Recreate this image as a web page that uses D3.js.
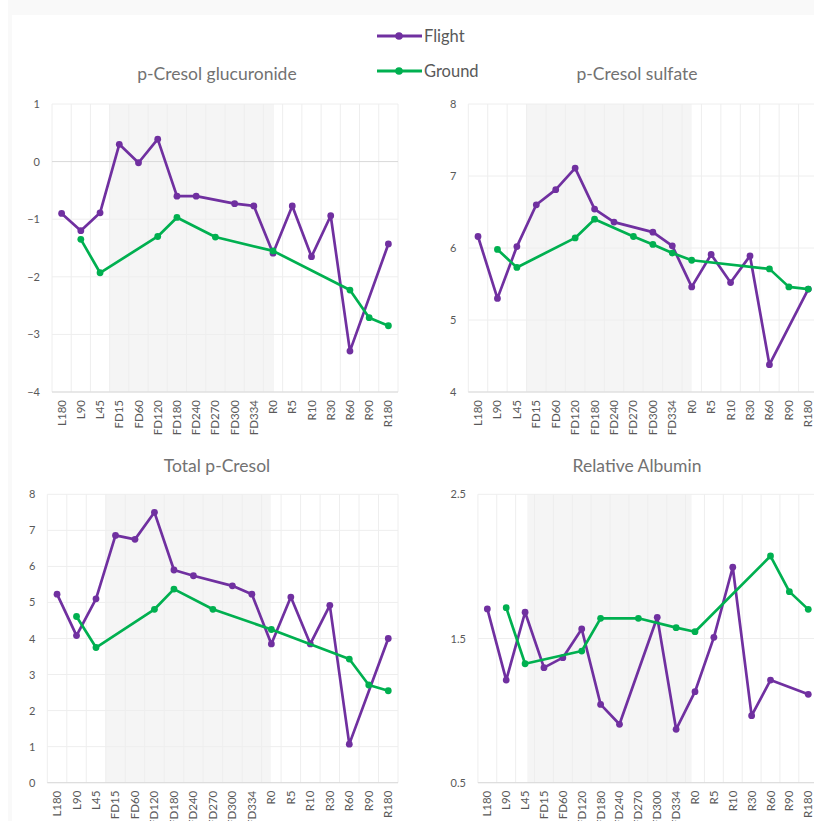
<!DOCTYPE html>
<html>
<head>
<meta charset="utf-8">
<script src="https://cdn.jsdelivr.net/npm/d3@7"></script>
<style>
  html, body { margin: 0; padding: 0; background: #ffffff; }
  svg { display: block; font-family: Lato, "Open Sans", sans-serif; }
</style>
</head>
<body>
<svg id="chart" width="814" height="821"></svg>
<script>
// Sampling time points (L = pre-launch, FD = flight day, R = return)
const categories = ["L180", "L90", "L45", "FD15", "FD60", "FD120", "FD180", "FD240", "FD270",
                    "FD300", "FD334", "R0", "R5", "R10", "R30", "R60", "R90", "R180"];

const seriesNames = ["Flight", "Ground"];
const seriesColors = ["#7030A0", "#00B050"];

// p-Cresol glucuronide
const flightGlucuronide = [-0.90, -1.20, -0.89, 0.30, -0.02, 0.39, -0.60, -0.60, null,
                           -0.73, -0.77, -1.59, -0.77, -1.65, -0.94, -3.29, null, -1.43];
const groundGlucuronide = [null, -1.35, -1.93, null, null, -1.30, -0.97, null, -1.31,
                           null, null, -1.55, null, null, null, -2.23, -2.71, -2.85];

// p-Cresol sulfate
const flightSulfate = [6.16, 5.30, 6.02, 6.60, 6.81, 7.11, 6.54, 6.36, null,
                       6.22, 6.03, 5.46, 5.91, 5.52, 5.89, 4.38, null, 5.43];
const groundSulfate = [null, 5.98, 5.73, null, null, 6.14, 6.40, null, 6.16,
                       6.05, 5.93, 5.83, null, null, null, 5.71, 5.46, 5.43];

// Total p-Cresol
const flightTotal = [5.23, 4.08, 5.10, 6.86, 6.75, 7.50, 5.90, 5.74, null,
                     5.46, 5.23, 3.85, 5.15, 3.85, 4.92, 1.07, null, 4.00];
const groundTotal = [null, 4.61, 3.75, null, null, 4.81, 5.37, null, 4.81,
                     null, null, 4.25, null, null, null, 3.43, 2.71, 2.55];

// Relative Albumin
const flightAlbumin = [1.705, 1.212, 1.682, 1.298, 1.367, 1.566, 1.043, 0.905, null,
                       1.647, 0.870, 1.131, 1.508, 1.994, 0.965, 1.212, null, 1.113];
const groundAlbumin = [null, 1.714, 1.325, null, null, 1.413, 1.640, null, 1.640,
                       null, 1.575, 1.547, null, null, null, 2.072, 1.825, 1.702];

const panelTitles = ["p-Cresol glucuronide", "p-Cresol sulfate", "Total p-Cresol", "Relative Albumin"];
const yDomains = [[-4, 1], [4, 8], [0, 8], [0.5, 2.5]];
const yTicks = [[1, 0, -1, -2, -3, -4], [8, 7, 6, 5, 4], [8, 7, 6, 5, 4, 3, 2, 1, 0], [2.5, 1.5, 0.5]];
const yTickFormats = [d3.format("d"), d3.format("d"), d3.format("d"), d3.format(".1f")];
// Flight window shading, in category-index units
const flightWindows = [[2.5, 11.05], [2.5, 11.0], [2.5, 10.97], [2.12, 10.82]];

const panelData = [
  [flightGlucuronide, groundGlucuronide],
  [flightSulfate, groundSulfate],
  [flightTotal, groundTotal],
  [flightAlbumin, groundAlbumin]
];

// Layout of each panel's plot area
const layout = [
  { left: 52,    right: 398,   top: 104,   bottom: 392,   titleX: 217, titleY: 80 },
  { left: 468.3, right: 818,   top: 104,   bottom: 392,   titleX: 637, titleY: 80 },
  { left: 47.3,  right: 398,   top: 494.3, bottom: 782.7, titleX: 217, titleY: 472 },
  { left: 477.9, right: 817.7, top: 494.3, bottom: 782.7, titleX: 637, titleY: 472 }
];

const svg = d3.select("#chart");
const textColor = "#595959";

// Page frame
svg.append("rect").attr("x", 8).attr("y", 0).attr("width", 806).attr("height", 821).attr("fill", "#f9f9f9");
svg.append("rect").attr("x", 12).attr("y", 15).attr("width", 802).attr("height", 806).attr("fill", "#ffffff");

layout.forEach((L, p) => {
  const g = svg.append("g");
  const n = categories.length;
  const x = d3.scaleLinear().domain([-0.5, n - 0.5]).range([L.left, L.right]);
  const y = d3.scaleLinear().domain(yDomains[p]).range([L.bottom, L.top]);

  // Flight window band
  const w = flightWindows[p];
  g.append("rect")
    .attr("x", x(w[0])).attr("y", L.top)
    .attr("width", x(w[1]) - x(w[0])).attr("height", L.bottom - L.top)
    .attr("fill", "#f5f5f5");

  // Vertical gridlines at category boundaries
  g.append("g").selectAll("line")
    .data(d3.range(n + 1))
    .join("line")
    .attr("x1", i => x(i - 0.5)).attr("x2", i => x(i - 0.5))
    .attr("y1", L.top).attr("y2", L.bottom)
    .attr("stroke", "#eeeeee").attr("stroke-width", 1);

  // Horizontal gridlines
  g.append("g").selectAll("line")
    .data(yTicks[p])
    .join("line")
    .attr("x1", L.left).attr("x2", L.right)
    .attr("y1", d => y(d)).attr("y2", d => y(d))
    .attr("stroke", d => (d === 0 && yDomains[p][0] < 0) ? "#d9d9d9" : "#eeeeee")
    .attr("stroke-width", 1);

  // Category axis line
  g.append("line")
    .attr("x1", L.left).attr("x2", L.right)
    .attr("y1", L.bottom).attr("y2", L.bottom)
    .attr("stroke", "#d9d9d9").attr("stroke-width", 1);

  // Value axis labels
  const yAxis = d3.axisLeft(y).tickValues(yTicks[p]).tickFormat(yTickFormats[p]).tickSize(0).tickPadding(12);
  const ya = g.append("g").attr("transform", `translate(${L.left},0)`).call(yAxis);
  ya.select(".domain").remove();
  ya.selectAll("text").attr("fill", textColor).style("font-size", "11px")
    .style("font-family", "Lato, 'Open Sans', sans-serif");

  // Category labels, rotated
  g.append("g").selectAll("text")
    .data(categories)
    .join("text")
    .attr("transform", (d, i) => `translate(${x(i) + 4},${L.bottom + 8}) rotate(-90)`)
    .attr("text-anchor", "end")
    .attr("fill", textColor)
    .style("font-size", "11.5px")
    .text(d => d);

  // Panel title
  g.append("text")
    .attr("x", L.titleX).attr("y", L.titleY)
    .attr("text-anchor", "middle")
    .attr("fill", "#727272")
    .style("font-size", "17.5px")
    .text(panelTitles[p]);

  // Series lines and markers (gaps are bridged)
  const line = d3.line().x(d => x(d.i)).y(d => y(d.v));
  panelData[p].forEach((vals, s) => {
    const pts = vals.map((v, i) => ({ i, v })).filter(d => d.v !== null);
    g.append("path")
      .datum(pts)
      .attr("d", line)
      .attr("fill", "none")
      .attr("stroke", seriesColors[s])
      .attr("stroke-width", 2.7)
      .attr("stroke-linejoin", "round");
    g.append("g").selectAll("circle")
      .data(pts)
      .join("circle")
      .attr("cx", d => x(d.i)).attr("cy", d => y(d.v))
      .attr("r", 3.4)
      .attr("fill", seriesColors[s]);
  });
});

// Legend
const legend = svg.append("g");
seriesNames.forEach((name, s) => {
  const ly = 36 + s * 35;
  legend.append("line")
    .attr("x1", 377).attr("x2", 422).attr("y1", ly).attr("y2", ly)
    .attr("stroke", seriesColors[s]).attr("stroke-width", 3);
  legend.append("circle")
    .attr("cx", 399).attr("cy", ly).attr("r", 3.8)
    .attr("fill", seriesColors[s]);
  legend.append("text")
    .attr("x", 424).attr("y", ly + 6)
    .attr("fill", textColor)
    .style("font-size", "16.5px")
    .text(name);
});
</script>
</body>
</html>
